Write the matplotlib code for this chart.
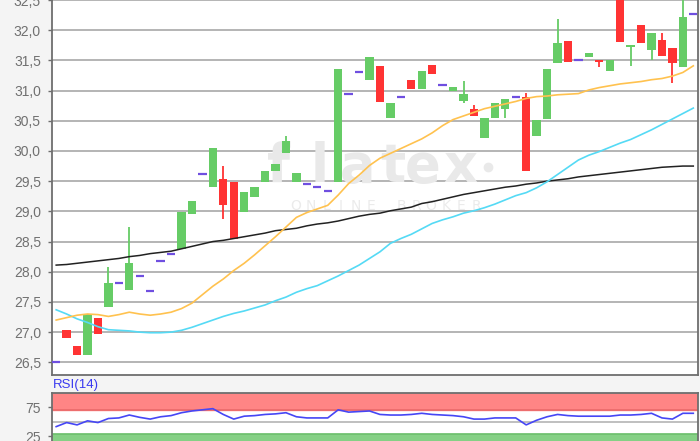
import matplotlib.pyplot as plt
from matplotlib.ticker import FuncFormatter
import numpy as np

# daily candles (open, high, low, close)
opens = [26.51, 27.04, 26.77, 26.62, 27.24, 27.42, 27.82, 27.70, 27.93, 27.68,
         28.18, 28.29, 28.37, 28.95, 29.62, 29.40, 29.53, 29.49, 28.99, 29.24,
         29.49, 29.67, 29.97, 29.49, 29.45, 29.41, 29.34, 29.49, 30.95, 31.31,
         31.18, 31.40, 30.54, 30.89, 31.17, 31.02, 31.43, 31.10, 31.00, 30.83,
         30.69, 30.22, 30.55, 30.69, 30.89, 30.89, 30.25, 30.53, 31.46, 31.82,
         31.50, 31.55, 31.50, 31.33, 32.65, 31.72, 32.09, 31.67, 31.83, 31.71,
         31.39, 32.26]
highs = [26.51, 27.04, 26.77, 27.30, 27.24, 28.08, 27.82, 28.74, 27.93, 27.68,
         28.18, 28.29, 28.99, 29.17, 29.62, 30.05, 29.75, 29.49, 29.32, 29.41,
         29.67, 29.78, 30.24, 29.63, 29.45, 29.41, 29.34, 31.35, 30.95, 31.31,
         31.56, 31.40, 30.80, 30.89, 31.17, 31.32, 31.43, 31.10, 31.06, 31.16,
         30.76, 30.55, 30.79, 30.86, 30.89, 30.96, 30.51, 31.35, 32.18, 31.82,
         31.50, 31.62, 31.50, 31.50, 32.65, 31.76, 32.09, 31.96, 31.96, 31.71,
         32.60, 32.26]
lows = [26.51, 26.91, 26.62, 26.62, 26.97, 27.42, 27.82, 27.70, 27.93, 27.68,
        28.18, 28.29, 28.37, 28.95, 29.62, 29.40, 28.88, 28.54, 28.99, 29.24,
        29.49, 29.67, 29.97, 29.49, 29.45, 29.41, 29.34, 29.49, 30.95, 31.31,
        31.18, 30.81, 30.54, 30.89, 31.02, 31.02, 31.27, 31.10, 31.00, 30.79,
        30.58, 30.22, 30.55, 30.55, 30.89, 29.67, 30.25, 30.53, 31.46, 31.48,
        31.50, 31.55, 31.39, 31.33, 31.80, 31.41, 31.78, 31.50, 31.57, 31.13,
        31.39, 32.26]
closes = [26.51, 26.91, 26.62, 27.30, 26.97, 27.82, 27.82, 28.14, 27.93, 27.68,
          28.18, 28.29, 28.99, 29.17, 29.62, 30.05, 29.10, 28.54, 29.32, 29.41,
          29.67, 29.78, 30.16, 29.63, 29.45, 29.41, 29.34, 31.35, 30.95, 31.31,
          31.56, 30.81, 30.80, 30.89, 31.02, 31.32, 31.27, 31.10, 31.06, 30.95,
          30.58, 30.55, 30.79, 30.86, 30.89, 29.67, 30.51, 31.35, 31.78, 31.48,
          31.50, 31.62, 31.47, 31.50, 31.80, 31.76, 31.78, 31.96, 31.57, 31.46,
          32.22, 32.26]

ma_short = [27.20, 27.24, 27.28, 27.30, 27.29, 27.26, 27.29, 27.33, 27.30, 27.28,
            27.30, 27.33, 27.39, 27.48, 27.62, 27.76, 27.88, 28.02, 28.14, 28.28,
            28.43, 28.58, 28.74, 28.90, 28.98, 29.04, 29.10, 29.27, 29.46, 29.60,
            29.76, 29.88, 29.96, 30.04, 30.12, 30.20, 30.30, 30.42, 30.52, 30.58,
            30.64, 30.70, 30.74, 30.78, 30.82, 30.87, 30.90, 30.91, 30.93, 30.94,
            30.95, 31.01, 31.05, 31.08, 31.11, 31.13, 31.15, 31.18, 31.20, 31.24,
            31.30, 31.41]
ma_mid = [27.37, 27.30, 27.22, 27.16, 27.09, 27.04, 27.03, 27.02, 27.00, 26.99,
          26.99, 27.00, 27.03, 27.08, 27.14, 27.20, 27.26, 27.31, 27.35, 27.40,
          27.45, 27.52, 27.58, 27.66, 27.72, 27.77, 27.85, 27.93, 28.02, 28.11,
          28.22, 28.33, 28.47, 28.55, 28.62, 28.71, 28.80, 28.86, 28.91, 28.97,
          29.01, 29.06, 29.12, 29.19, 29.26, 29.31, 29.39, 29.49, 29.61, 29.73,
          29.85, 29.93, 29.99, 30.06, 30.13, 30.19, 30.27, 30.35, 30.44, 30.53,
          30.62, 30.71]
ma_long = [28.11, 28.12, 28.14, 28.16, 28.18, 28.20, 28.22, 28.25, 28.27, 28.30,
           28.32, 28.34, 28.38, 28.42, 28.46, 28.50, 28.52, 28.55, 28.58, 28.61,
           28.64, 28.68, 28.70, 28.72, 28.76, 28.79, 28.81, 28.84, 28.88, 28.92,
           28.95, 28.97, 29.01, 29.04, 29.07, 29.13, 29.16, 29.20, 29.24, 29.28,
           29.31, 29.34, 29.37, 29.40, 29.42, 29.45, 29.47, 29.50, 29.52, 29.54,
           29.57, 29.59, 29.61, 29.63, 29.65, 29.67, 29.69, 29.71, 29.73, 29.74,
           29.75, 29.75]

rsi = [42, 49, 45, 52, 49, 56, 57, 62, 58, 55, 59, 61, 66, 69, 71, 73, 63, 55,
       60, 61, 63, 64, 66, 59, 57, 57, 57, 71, 67, 68, 69, 63, 62, 62, 63, 65,
       63, 62, 61, 59, 55, 55, 57, 57, 57, 45, 53, 59, 63, 61, 60, 60, 60, 60,
       62, 62, 63, 65, 57, 55, 65, 65]

price_ticks = [26.5, 27.0, 27.5, 28.0, 28.5, 29.0, 29.5, 30.0, 30.5, 31.0, 31.5, 32.0, 32.5]
rsi_ticks = [25, 75]

GREEN = '#66cc66'
RED = '#ff3333'
DOJI = '#6f4fe0'
GRID = '#b4b4b4'
SPINE = '#6e6e6e'
TXT = '#707070'
WM = '#e9e9e9'

plt.rcParams['font.family'] = ['Liberation Sans', 'DejaVu Sans']

fig = plt.figure(figsize=(7, 4.41), dpi=100, facecolor='#f4f4f4')
ax = fig.add_axes([52/700, 66/441, 646/700, 375/441])
rx = fig.add_axes([52/700, 0, 646/700, 48/441])

x = np.arange(len(opens))
o = np.array(opens); c = np.array(closes)
h = np.array(highs); l = np.array(lows)
up = c > o
dn = c < o
eq = c == o

ax.vlines(x[up], l[up], h[up], color=GREEN, lw=1.3, zorder=3)
ax.vlines(x[dn], l[dn], h[dn], color=RED, lw=1.3, zorder=3)
ax.bar(x[up], (c - o)[up], bottom=o[up], width=0.8, color=GREEN, zorder=4)
ax.bar(x[dn], (o - c)[dn], bottom=c[dn], width=0.8, color=RED, zorder=4)
ax.hlines(c[eq], x[eq] - 0.4, x[eq] + 0.4, color=DOJI, lw=1.6, zorder=4)

ax.plot(x, ma_long, color='#222222', lw=1.1, zorder=5)
ax.plot(x, ma_mid, color='#55daf5', lw=1.2, zorder=5)
ax.plot(x, ma_short, color='#ffc24f', lw=1.2, zorder=5)

# watermark
def px(xp, yp):
    return (xp - 52) / 646, (375 - yp) / 375

for ch, xp in zip('flatex', [279, 320, 358, 393, 423, 460]):
    ax.text(*px(xp, 182), ch, transform=ax.transAxes, ha='center', va='baseline',
            fontsize=38, fontweight='bold', color=WM, family='DejaVu Sans', zorder=1)
ax.plot(*px(488, 167), 'o', ms=6, color=WM, transform=ax.transAxes, zorder=1)
for i, ch in enumerate('ONLINE BROKER'):
    ax.text(*px(296 + 15 * i, 206), ch, transform=ax.transAxes, ha='center', va='center',
            fontsize=10, color='#ebebeb', family='DejaVu Sans', zorder=1)

ax.set_xlim(-0.4, 61.45)
ax.set_ylim(26.29, 32.5)
ax.set_yticks(price_ticks)
ax.yaxis.set_major_formatter(FuncFormatter(lambda v, p: f'{v:.1f}'.replace('.', ',')))
ax.set_xticks([])
ax.grid(axis='y', color=GRID, lw=1.4, zorder=0)
ax.set_axisbelow(True)
ax.tick_params(axis='y', length=3, width=1, color=SPINE, labelsize=10, labelcolor=TXT, pad=5)
for s in ['left', 'bottom', 'right']:
    ax.spines[s].set_color(SPINE)
    ax.spines[s].set_linewidth(1.3)
ax.spines['top'].set_visible(False)

# RSI panel
rx.axhspan(70, 100, color='#ff8585', zorder=1)
rx.axhline(70, color='#ea6a6a', lw=1.2, zorder=2)
rx.axhspan(0, 30, color='#85d085', zorder=1)
rx.axhline(30, color='#6cbf6c', lw=1.2, zorder=2)
rx.axhline(50, color=GRID, lw=1.2, zorder=2)
rx.plot(x, rsi, color='#4646f5', lw=1.2, zorder=3)
rx.set_xlim(-0.4, 61.45)
rx.set_ylim(17.2, 100)
rx.set_yticks(rsi_ticks)
rx.set_xticks([])
rx.tick_params(axis='y', length=3, width=1, color=SPINE, labelsize=10, labelcolor=TXT, pad=5)
for s in ['left', 'top', 'right']:
    rx.spines[s].set_color(SPINE)
    rx.spines[s].set_linewidth(1.3)
rx.spines['bottom'].set_visible(False)
fig.text(53/700, 1 - 385/441, 'RSI(14)', color='#3a3af0', fontsize=9.5, va='center', ha='left')

fig.savefig('out.png', dpi=100, facecolor=fig.get_facecolor())
